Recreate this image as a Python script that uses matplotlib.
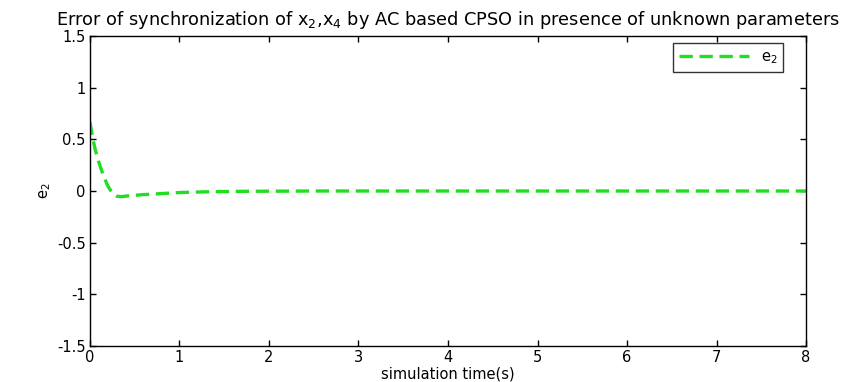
import matplotlib
matplotlib.use("Agg")
import matplotlib.pyplot as plt

# values
t = [0.0, 0.03, 0.06, 0.1, 0.15, 0.2, 0.25, 0.3, 0.35, 0.45, 0.6, 0.8, 1.0, 1.3, 1.7, 2.5, 4.0, 6.0, 8.0]
e2 = [0.67, 0.52, 0.40, 0.28, 0.15, 0.05, -0.02, -0.05, -0.055, -0.045, -0.035, -0.025, -0.015, -0.008, -0.003, 0.0, 0.0, 0.0, 0.0]

xticks = [0, 1, 2, 3, 4, 5, 6, 7, 8]
yticks = [-1.5, -1, -0.5, 0, 0.5, 1, 1.5]
ytick_labels = ["-1.5", "-1", "-0.5", "0", "0.5", "1", "1.5"]

plt.rcParams.update({"font.family": "DejaVu Sans", "font.size": 10.5,
                     "mathtext.fontset": "custom", "mathtext.rm": "DejaVu Sans"})
fig = plt.figure(figsize=(8.64, 3.82), dpi=100)
ax = fig.add_axes([0.104, 0.094, 0.829, 0.812])

ax.plot(t, e2, color="#22dd22", lw=2.4, ls=(0, (4, 2)), label="$\\mathregular{e_2}$")

ax.set_xlim(0, 8)
ax.set_ylim(-1.5, 1.5)
ax.set_xticks(xticks)
ax.set_yticks(yticks)
ax.set_yticklabels(ytick_labels)
ax.tick_params(direction="in", top=True, right=True, length=4, width=1, pad=3)
for s in ax.spines.values():
    s.set_linewidth(1.0)

ax.set_xlabel("simulation time(s)", labelpad=1)
ax.set_ylabel("$\\mathregular{e_2}$", labelpad=3)
ax.set_title("Error of synchronization of $\\mathregular{x_2}$,$\\mathregular{x_4}$ by AC based CPSO "
             "in presence of unknown parameters", fontsize=12.8, pad=8)

leg = ax.legend(loc="upper right", fancybox=False, edgecolor="black",
                handlelength=4.8, borderaxespad=0.5, bbox_to_anchor=(0.978, 1.0))
leg.get_frame().set_linewidth(1.0)

fig.savefig("out.png", dpi=100)
